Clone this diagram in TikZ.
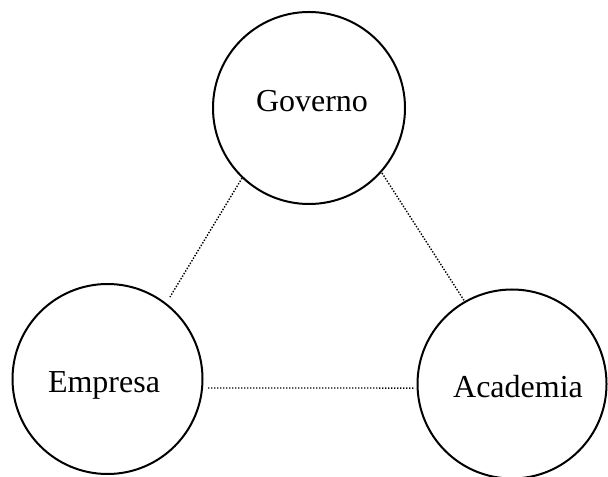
\documentclass[tikz,border=0pt]{standalone}
\usepackage{fontspec}
\setmainfont{Liberation Serif}
\usetikzlibrary{calc}
\newcommand\mylbl[3]{\raisebox{#2}[0pt][0pt]{\makebox[0pt]{\hspace*{#1}#3}}}
\begin{document}
\begin{tikzpicture}[x=0.5pt,y=0.5pt,
  actor/.style={draw,circle,line width=1pt,inner sep=0pt,font=\fontsize{16}{18}\selectfont},
  link/.style={line width=0.7pt,dash pattern=on 0.7pt off 0.8pt}]
\useasboundingbox (0,0) rectangle (608,476);
\node[actor,minimum size=96pt] (gov) at (309,368) {\mylbl{3pt}{-2pt}{Governo}};
\node[actor,minimum size=95pt] (emp) at (107.5,97) {\mylbl{-3.5pt}{-6.5pt}{Empresa}};
\node[actor,minimum size=94.5pt] (aca) at (512,92) {\mylbl{6pt}{-6.5pt}{Academia}};
\coordinate (g1) at ($(gov.center)+(226.3:48.45pt)$);
\coordinate (e1) at ($(emp.center)+(52.7:51.55pt)$);
\coordinate (g2) at ($(gov.center)+(318.3:48.9pt)$);
\coordinate (a1) at ($(aca.center)+(119.8:47.25pt)$);
\coordinate (e2) at ($(emp.center)+(-5.1:50.45pt)$);
\coordinate (a2) at ($(aca.center)+(182.4:48.55pt)$);
\draw[link] (g1) -- (e1);
\draw[link] (g2) -- (a1);
\draw[link] (e2) -- (a2);
\end{tikzpicture}
\end{document}
